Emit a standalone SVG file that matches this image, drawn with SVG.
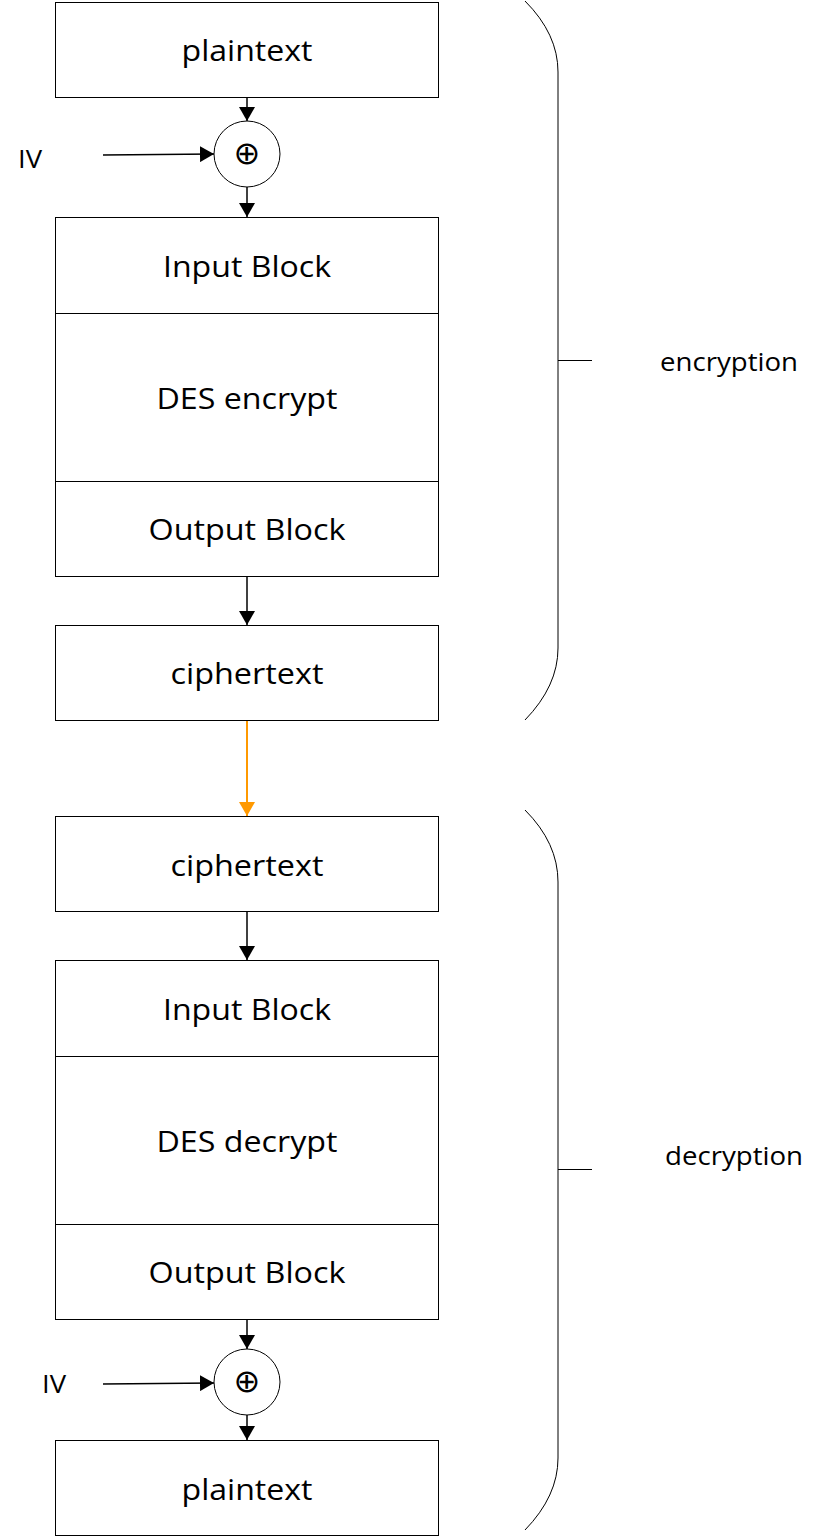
<svg xmlns="http://www.w3.org/2000/svg" width="821" height="1537" viewBox="0 0 821 1537">
<style>
.box{fill:#fff;stroke:#000;stroke-width:1}
.t{font-family:"Open Sans","Liberation Sans",sans-serif;font-size:30px;fill:#000;text-anchor:middle;dominant-baseline:central}
.l{font-family:"Open Sans","Liberation Sans",sans-serif;font-size:26px;fill:#000;dominant-baseline:central}
.c{stroke:#000;stroke-width:1.5;fill:none}
.br{stroke:#000;stroke-width:1;fill:none}
.x{font-family:"DejaVu Sans",sans-serif;font-size:32px;fill:#000;text-anchor:middle;dominant-baseline:central}
</style>
<defs>
<marker id="a" viewBox="0 0 14 16" refX="14" refY="8" markerWidth="14" markerHeight="16" markerUnits="userSpaceOnUse" orient="auto"><path d="M0,0 L14,8 L0,16 Z" fill="#000"/></marker>
<marker id="ao" viewBox="0 0 14 16" refX="14" refY="8" markerWidth="14" markerHeight="16" markerUnits="userSpaceOnUse" orient="auto"><path d="M0,0 L14,8 L0,16 Z" fill="#ff9900"/></marker>
</defs>
<g id="plaintext1"><rect class="box" x="55.5" y="2.5" width="383" height="95"/><text class="t" x="247" y="49" textLength="131" lengthAdjust="spacingAndGlyphs">plaintext</text></g>
<g id="xor1"><circle cx="247" cy="154" r="33" fill="#fff" stroke="#000" stroke-width="1"/><text class="x" x="247" y="153">⊕</text></g>
<g id="iv1"><text class="l" x="18" y="158" textLength="24" lengthAdjust="spacingAndGlyphs">IV</text></g>
<g id="input1"><rect class="box" x="55.5" y="217.5" width="383" height="96"/><text class="t" x="247" y="265" textLength="168" lengthAdjust="spacingAndGlyphs">Input Block</text></g>
<g id="des1"><rect class="box" x="55.5" y="313.5" width="383" height="168"/><text class="t" x="247" y="397" textLength="181" lengthAdjust="spacingAndGlyphs">DES encrypt</text></g>
<g id="output1"><rect class="box" x="55.5" y="481.5" width="383" height="95"/><text class="t" x="247" y="528" textLength="197" lengthAdjust="spacingAndGlyphs">Output Block</text></g>
<g id="cipher1"><rect class="box" x="55.5" y="625.5" width="383" height="95"/><text class="t" x="247" y="672" textLength="153" lengthAdjust="spacingAndGlyphs">ciphertext</text></g>
<g id="cipher2"><rect class="box" x="55.5" y="816.5" width="383" height="95"/><text class="t" x="247" y="864" textLength="153" lengthAdjust="spacingAndGlyphs">ciphertext</text></g>
<g id="input2"><rect class="box" x="55.5" y="960.5" width="383" height="96"/><text class="t" x="247" y="1008" textLength="168" lengthAdjust="spacingAndGlyphs">Input Block</text></g>
<g id="des2"><rect class="box" x="55.5" y="1056.5" width="383" height="168"/><text class="t" x="247" y="1140" textLength="181" lengthAdjust="spacingAndGlyphs">DES decrypt</text></g>
<g id="output2"><rect class="box" x="55.5" y="1224.5" width="383" height="95"/><text class="t" x="247" y="1271" textLength="197" lengthAdjust="spacingAndGlyphs">Output Block</text></g>
<g id="xor2"><circle cx="247" cy="1382" r="33" fill="#fff" stroke="#000" stroke-width="1"/><text class="x" x="247" y="1381">⊕</text></g>
<g id="iv2"><text class="l" x="42" y="1383" textLength="24" lengthAdjust="spacingAndGlyphs">IV</text></g>
<g id="plaintext2"><rect class="box" x="55.5" y="1440.5" width="383" height="95"/><text class="t" x="247" y="1488" textLength="131" lengthAdjust="spacingAndGlyphs">plaintext</text></g>
<g id="enc"><path class="br" d="M525,1 Q558,34 558,72 L558,648 Q558,686 525,720"/><path class="br" d="M558,360.5 L592,360.5" stroke="#666"/><text class="l" x="660" y="361" textLength="138" lengthAdjust="spacingAndGlyphs">encryption</text></g>
<g id="dec"><path class="br" d="M525,810 Q558,843 558,882 L558,1458 Q558,1496 525,1530"/><path class="br" d="M558,1169.5 L592,1169.5" stroke="#666"/><text class="l" x="665" y="1155" textLength="138" lengthAdjust="spacingAndGlyphs">decryption</text></g>
<g id="connectors">
<path class="c" d="M247,98 L247,121" marker-end="url(#a)"/>
<path class="c" d="M103,155 L214,154" marker-end="url(#a)"/>
<path class="c" d="M247,187 L247,217" marker-end="url(#a)"/>
<path class="c" d="M247,577 L247,625" marker-end="url(#a)"/>
<path d="M247,721 L247,816" stroke="#ff9900" stroke-width="2" fill="none" marker-end="url(#ao)"/>
<path class="c" d="M247,912 L247,960" marker-end="url(#a)"/>
<path class="c" d="M247,1320 L247,1349" marker-end="url(#a)"/>
<path class="c" d="M103,1384 L214,1383" marker-end="url(#a)"/>
<path class="c" d="M247,1415 L247,1440" marker-end="url(#a)"/>
</g>
</svg>
